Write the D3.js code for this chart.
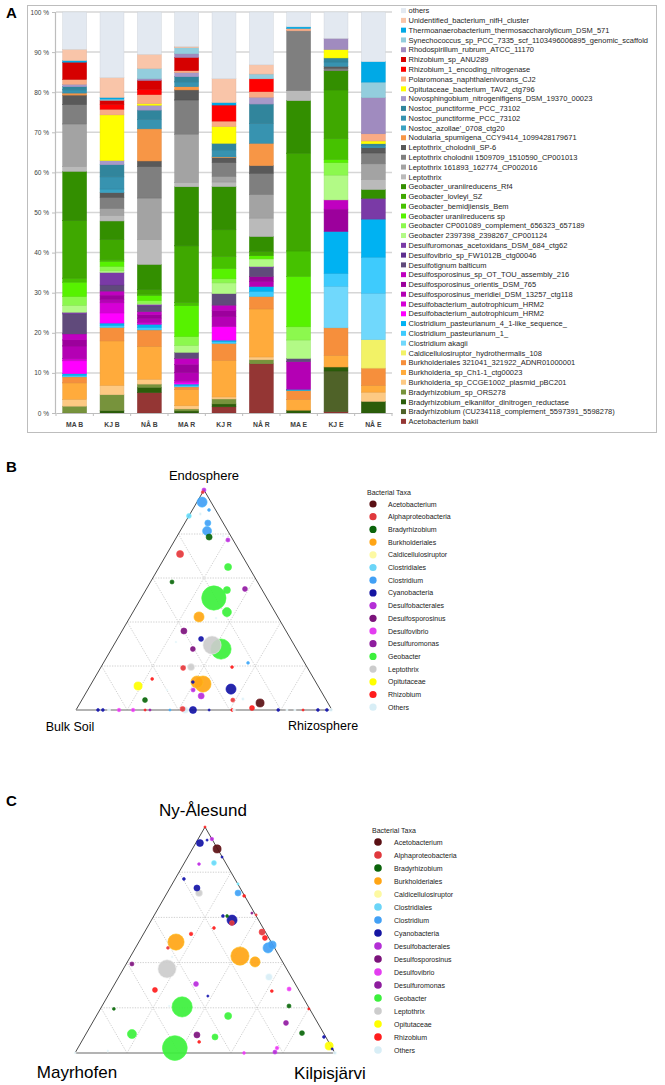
<!DOCTYPE html>
<html><head><meta charset="utf-8">
<script src="https://cdn.jsdelivr.net/npm/d3@7"></script>
<style>body{margin:0;background:#fff;} svg{display:block;font-family:"Liberation Sans",Arial,sans-serif;}</style>
</head><body><svg id="c" width="665" height="1085"></svg>
<script>
// ---------- Panel A data ----------
const samples = ["MA B","KJ B","NÅ B","MA R","KJ R","NÅ R","MA E","KJ E","NÅ E"];
const seriesNames = [
"others","Unidentified_bacterium_nifH_cluster","Thermoanaerobacterium_thermosaccharolyticum_DSM_571",
"Synechococcus_sp_PCC_7335_scf_1103496006895_genomic_scaffold","Rhodospirillum_rubrum_ATCC_11170",
"Rhizobium_sp_ANU289","Rhizobium_1_encoding_nitrogenase","Polaromonas_naphthalenivorans_CJ2",
"Opitutaceae_bacterium_TAV2_ctg796","Novosphingobium_nitrogenifigens_DSM_19370_00023",
"Nostoc_punctiforme_PCC_73102","Nostoc_punctiforme_PCC_73102","Nostoc_azollae'_0708_ctg20",
"Nodularia_spumigena_CCY9414_1099428179671","Leptothrix_cholodnii_SP-6",
"Leptothrix cholodnii 1509709_1510590_CP001013","Leptothrix 161893_162774_CP002016","Leptothrix",
"Geobacter_uraniireducens_Rf4","Geobacter_lovleyi_SZ","Geobacter_bemidjiensis_Bem","Geobacter uraniireducens sp",
"Geobacter CP001089_complement_656323_657189","Geobacter 2397398_2398267_CP001124",
"Desulfuromonas_acetoxidans_DSM_684_ctg62","Desulfovibrio_sp_FW1012B_ctg00046","Desulfotignum balticum",
"Desulfosporosinus_sp_OT_TOU_assembly_216","Desulfosporosinus_orientis_DSM_765",
"Desulfosporosinus_meridiei_DSM_13257_ctg118","Desulfobacterium_autotrophicum_HRM2",
"Desulfobacterium_autotrophicum_HRM2","Clostridium_pasteurianum_4_1-like_sequence_",
"Clostridium_pasteurianum_1_","Clostridium akagii","Caldicellulosiruptor_hydrothermalis_108",
"Burkholderiales 321041_321922_ADNR01000001","Burkholderia_sp_Ch1-1_ctg00023",
"Burkholderia_sp_CCGE1002_plasmid_pBC201","Bradyrhizobium_sp_ORS278",
"Bradyrhizobium_elkaniifor_dinitrogen_reductase","Bradyrhizobium (CU234118_complement_5597391_5598278)",
"Acetobacterium bakii"];
const seriesColors = [
"#e3e9f1","#f9c5a9","#00a9e6","#93cddd","#a08bbf",
"#d60000","#ff0000","#f9ab85","#ffff00","#a799c9",
"#31859c","#3793b0","#3aa2c2","#f79646","#595959",
"#7f7f7f","#a3a3a3","#bababa",
"#338f00","#3fa800","#46c200","#57f200","#8cf84e","#b2fa86",
"#7a3aa6","#5e2e8e","#604a7b",
"#c000c0","#9c009c","#b400b4","#d600d6",
"#ff00ff","#00b2f2","#3ecbfd","#70d8fc","#f2f266",
"#f68f3c","#ffab3c","#fdc983","#77933c",
"#2b5d0a","#4f6228","#943634"];
// values in legend order (top of legend first), % of reads
const valMA_B = [9.3,2.8,0.4,0,0,4.3,0,1.2,0,0.6,0.8,0.8,0,0.5,2.4,4.8,10.6,1.2,12.3,14.3,1.0,3.6,2.2,1.7,0.4,0,5.0,1.5,1.5,3.2,0.5,3.2,0.4,0.4,0,0,1.5,4.1,1.7,1.7,0,0,0];
const valKJ_B = [16.2,4.9,0.4,0.3,0,1.0,1.2,1.4,11.3,1.0,3.0,3.0,0.9,0,1.2,2.7,1.7,1.4,4.6,5.0,0.4,1.2,1.1,0.4,3.1,0,1.5,1.0,1.0,0.9,2.5,2.5,0.6,0.5,0,0,3.3,11.0,2.3,3.9,0.6,0,0];
const valNA_B = [10.4,3.5,0,2.5,0.4,2.2,1.3,2.2,0.4,1.2,2.3,2.3,0,7.9,1.4,7.7,10.2,6.1,6.2,1.1,0.4,1.2,0.7,0.2,0.4,0,1.4,0.8,0.8,1.1,0.4,0,0.8,0.6,0,0,4.0,8.1,1.2,0.8,1.3,0,5.0];
const valMA_R = [8.6,0.3,0,1.5,0.9,3.3,0,0.5,0,1.0,1.3,1.2,0,0.8,2.5,8.5,12.0,1.1,14.7,14.1,0.8,7.7,2.2,1.7,0,0,1.5,1.5,2.0,2.1,0.4,0.4,0.4,0.3,0,0,0.6,4.1,0.8,0.5,0.5,0,0];
const valKJ_R = [16.2,5.8,0.6,0,0,0,3.9,1.3,4.1,0,1.6,1.5,0.2,0.2,1.2,3.3,1.4,1.1,10.5,6.5,2.9,2.5,1.0,2.6,0,0,2.8,1.3,1.4,2.5,0,3.3,0.4,0.4,0,0,4.1,8.9,0.5,1.2,0.7,0,1.5];
const valNA_R = [13.2,2.3,0,1.2,0,0,3.2,1.4,0,1.7,4.9,4.9,0,5.6,1.9,5.3,5.9,4.6,3.7,1.1,0,0.8,0,1.9,0.3,0,2.2,0,1.2,1.3,0,0,1.2,1.3,0,0,3.1,12.0,0.7,1.0,0,0,12.3];
const valMA_E = [3.7,0,0.4,0,0,0,0,0.6,0,0,0,0,0,0,0,14.9,0,2.5,13.1,24.4,6.3,12.6,3.3,4.6,0,0,0.8,0,0,6.9,0,0,0.3,0,0,0,2.2,2.7,0,0,0.7,0,0];
const valKJ_E = [6.6,0,0,0,2.8,0,0,0,2.1,0,1.0,1.1,0,0,0.5,0.6,0,0,4.8,12.2,5.2,0.8,3.1,6.2,0,0,0,2.3,5.6,0,0,0,10.5,3.2,10.4,0,6.9,2.9,0,0,1.0,10.2,0.3];
const valNA_E = [12.4,0,5.1,3.9,9.0,0,0,1.8,0.7,0,0.5,0.5,0,0,1.3,2.7,3.9,2.5,2.2,0,0,0,0,0,5.2,0,0,0,0,0,0,0,9.5,9.0,11.6,7.1,4.3,1.7,2.3,0,2.9,0,0];
const sampleValues = [valMA_B,valKJ_B,valNA_B,valMA_R,valKJ_R,valNA_R,valMA_E,valKJ_E,valNA_E];
const yTicks = [0,0.1,0.2,0.3,0.4,0.5,0.6,0.7,0.8,0.9,1.0];

// ---------- Panels B & C data ----------
const taxa = ["Acetobacterium","Alphaproteobacteria","Bradyrhizobium","Burkholderiales","Caldicellulosiruptor",
"Clostridiales","Clostridium","Cyanobacteria","Desulfobacterales","Desulfosporosinus","Desulfovibrio",
"Desulfuromonas","Geobacter","Leptothrix","Opitutaceae","Rhizobium","Others"];
const taxaColors = ["#5a1014","#e0393d","#0b640b","#ffa515","#fdf9a2","#6bd5f8","#42a0f5","#1515a2",
"#b42fd6","#7b137b","#e33df0","#8e1d9e","#3cf03c","#cccccc","#ffff00","#ff1d1d","#d8eef6"];
// [taxon, top-vertex fraction (Endosphere), right-vertex fraction (Rhizosphere), abundance]
const pointsB = [
["Desulfobacterales",1.0,0.0,4],["Alphaproteobacteria",0.99,0.0,2],["Clostridium",0.945,0.02,25],
["Clostridium",0.909,0.065,2],["Clostridiales",0.882,0.0,6],["Others",0.891,0.04,2],
["Clostridium",0.85,0.09,9],["Clostridium",0.814,0.105,20],["Bradyrhizobium",0.786,0.127,9],
["Others",0.791,0.179,1],["Desulfobacterales",0.773,0.207,4],["Alphaproteobacteria",0.709,0.052,12],
["Geobacter",0.65,0.269,12],["Bradyrhizobium",0.582,0.084,4],["Desulfuromonas",0.55,0.385,6],
["Geobacter",0.545,0.317,12],["Geobacter",0.509,0.284,144],["Geobacter",0.445,0.367,20],
["Burkholderiales",0.423,0.269,25],["Others",0.418,0.338,1],["Desulfosporosinus",0.359,0.242,9],
["Cyanobacteria",0.323,0.327,6],["Others",0.309,0.236,1],["Geobacter",0.277,0.428,100],
["Leptothrix",0.295,0.384,81],["Desulfosporosinus",0.277,0.318,6],["Alphaproteobacteria",0.191,0.323,6],
["Leptothrix",0.195,0.352,12],["Rhizobium",0.195,0.512,2],["Clostridium",0.214,0.565,2],
["Rhizobium",0.141,0.227,2],["Opitutaceae",0.109,0.188,16],["Others",0.091,0.31,1],
["Cyanobacteria",0.127,0.393,2],["Desulfobacterales",0.091,0.412,4],["Burkholderiales",0.118,0.437,64],
["Burkholderiales",0.127,0.409,36],["Desulfobacterales",0.064,0.457,9],["Cyanobacteria",0.095,0.558,25],
["Bradyrhizobium",0.045,0.247,6],["Others",0.05,0.627,2],["Alphaproteobacteria",0.045,0.59,4],
["Acetobacterium",0.032,0.703,16],["Rhizobium",0.009,0.683,6],
["Cyanobacteria",0,0.086,2],["Cyanobacteria",0,0.105,2],["Others",0,0.129,2],["Desulfovibrio",0,0.168,3],
["Desulfovibrio",0,0.223,3],["Rhizobium",0,0.27,1],["Desulfuromonas",0,0.289,1],["Clostridium",0,0.367,1],
["Alphaproteobacteria",0.005,0.414,6],["Others",0,0.426,12],["Cyanobacteria",0,0.457,12],
["Cyanobacteria",0,0.52,1],["Rhizobium",0,0.61,2],["Others",0,0.617,2],["Cyanobacteria",0,0.79,2],
["Others",0,0.824,1],["Others",0,0.855,1],["Rhizobium",0,0.887,1],["Cyanobacteria",0,0.945,2],
["Cyanobacteria",0,0.98,2],["Others",0,0.996,3]];
// [taxon, top fraction (Ny-Ålesund), right fraction (Kilpisjärvi), abundance]
const pointsC = [
["Rhizobium",1.0,0.0,1],["Desulfobacterales",0.947,0.053,3],["Cyanobacteria",0.929,0.016,12],
["Cyanobacteria",0.942,0.037,1],["Acetobacterium",0.903,0.095,16],["Cyanobacteria",0.867,0.132,1],
["Desulfobacterales",0.836,0.059,2],["Clostridiales",0.841,0.114,6],["Cyanobacteria",0.77,0.034,2],
["Cyanobacteria",0.73,0.104,9],["Leptothrix",0.708,0.123,12],["Clostridium",0.708,0.273,9],
["Clostridiales",0.748,0.253,1],["Rhizobium",0.695,0.303,2],["Others",0.624,0.307,1],
["Desulfosporosinus",0.619,0.371,1],["Alphaproteobacteria",0.611,0.391,1],["Cyanobacteria",0.606,0.266,2],
["Bradyrhizobium",0.606,0.282,2],["Cyanobacteria",0.588,0.31,25],["Alphaproteobacteria",0.575,0.316,6],
["Rhizobium",0.553,0.258,2],["Alphaproteobacteria",0.535,0.452,9],["Rhizobium",0.509,0.476,6],
["Rhizobium",0.527,0.183,3],["Burkholderiales",0.491,0.143,64],["Alphaproteobacteria",0.465,0.125,2],
["Clostridium",0.465,0.51,25],["Clostridium",0.478,0.519,16],["Burkholderiales",0.429,0.42,81],
["Burkholderiales",0.403,0.491,25],["Others",0.425,0.161,1],["Desulfosporosinus",0.394,0.022,4],
["Leptothrix",0.372,0.168,81],["Others",0.336,0.578,12],["Desulfobacterales",0.305,0.313,6],
["Rhizobium",0.279,0.168,6],["Rhizobium",0.274,0.62,2],["Desulfovibrio",0.283,0.682,4],
["Cyanobacteria",0.252,0.385,1],["Geobacter",0.204,0.31,100],["Others",0.208,0.258,1],
["Bradyrhizobium",0.195,0.052,2],["Rhizobium",0.195,0.802,1],["Bradyrhizobium",0.208,0.719,4],
["Geobacter",0.164,0.507,12],["Desulfuromonas",0.133,0.745,6],["Geobacter",0.084,0.177,20],
["Bradyrhizobium",0.088,0.829,6],["Desulfosporosinus",0.08,0.429,9],["Geobacter",0.071,0.503,9],
["Rhizobium",0.049,0.453,2],["Cyanobacteria",0.071,0.922,2],["Geobacter",0.022,0.373,150],
["Opitutaceae",0.031,0.962,16],["Cyanobacteria",0.018,0.98,1],["Desulfovibrio",0.022,0.766,3],
["Desulfobacterales",0.004,0.767,4],["Desulfovibrio",0,0.65,2],["Others",0,1.0,3],
["Others",0.009,0.122,1],["Others",0,0,1]];
const gridSteps = [0.2,0.4,0.6,0.8];

// ---------- drawing ----------
const svg = d3.select("#c");

// Panel A
svg.append("rect").attr("x",27.5).attr("y",5.5).attr("width",629).attr("height",427)
  .attr("fill","none").attr("stroke","#bdbdbd").attr("stroke-width",1);
svg.append("text").attr("x",6).attr("y",18).attr("font-size",15).attr("font-weight","bold").text("A");

const y = d3.scaleLinear().domain([0,1]).range([413,12]);
const x = d3.scaleBand().domain(samples).range([56,392]).paddingInner(0.36).paddingOuter(0.18);
const gA = svg.append("g");
gA.selectAll("line.grid").data(yTicks.slice(1)).join("line")
  .attr("x1",56).attr("x2",392).attr("y1",d=>y(d)).attr("y2",d=>y(d))
  .attr("stroke","#d6d6d6").attr("stroke-width",1.5);
const yAx = gA.append("g").attr("transform","translate(55,0)")
  .call(d3.axisLeft(y).tickValues(yTicks).tickSize(3).tickFormat(d=>Math.round(d*100)+" %"));
yAx.select(".domain").attr("stroke","#bdbdbd").attr("stroke-width",1.2);
yAx.selectAll(".tick line").attr("stroke","#bdbdbd");
yAx.selectAll(".tick text").attr("font-size",6.5).attr("fill","#404040").attr("font-family","Liberation Sans, Arial");

const rows = samples.map((s,i)=>{const o={sample:s}; sampleValues[i].forEach((v,k)=>o[k]=v); return o;});
const keys = d3.range(seriesNames.length).reverse(); // bottom first
const stacked = d3.stack().keys(keys).offset(d3.stackOffsetExpand)(rows);
gA.selectAll("g.layer").data(stacked).join("g")
  .attr("fill",d=>seriesColors[d.key])
  .attr("stroke",d=>d3.color(seriesColors[d.key]).darker(0.25))
  .attr("stroke-width",0.5)
  .selectAll("rect").data(d=>d.filter(p=>p[1]-p[0]>0)).join("rect")
  .attr("x",d=>x(d.data.sample)).attr("width",x.bandwidth())
  .attr("y",d=>y(d[1])).attr("height",d=>Math.max(0,y(d[0])-y(d[1])));
const xAx = gA.append("g").attr("transform","translate(0,413)")
  .call(d3.axisBottom(x).tickSize(0).tickPadding(9));
xAx.select(".domain").attr("stroke","#bdbdbd").attr("stroke-width",1.2);
xAx.selectAll(".tick text").attr("font-size",6.8).attr("font-weight","bold").attr("fill","#404040")
  .attr("font-family","Liberation Sans, Arial");
const bounds = samples.map(s=>x(s)-x.step()*x.paddingInner()/2).concat([392]);
gA.selectAll("line.xt").data(bounds).join("line")
  .attr("x1",d=>d).attr("x2",d=>d).attr("y1",413).attr("y2",416).attr("stroke","#bdbdbd");

const lgA = gA.append("g");
seriesNames.forEach((n,i)=>{
  const yy = 10.7 + i*9.78;
  lgA.append("rect").attr("x",401).attr("y",yy-2.6).attr("width",5).attr("height",5).attr("fill",seriesColors[i]);
  lgA.append("text").attr("x",408.5).attr("y",yy+2.6).attr("font-size",7.5).attr("fill","#262626").text(n);
});

// Ternary helper
const colorOf = d3.scaleOrdinal().domain(taxa).range(taxaColors);
const rScale = d3.scaleSqrt().domain([0,150]).range([0,12.4]);
function ternary(g, apexY, baseY, leftX, rightX, pts){
  const xs = d3.scaleLinear().domain([0,1]).range([leftX,rightX]);
  const ys = d3.scaleLinear().domain([0,1]).range([baseY,apexY]);
  const P = (t,r)=>[xs(r+t/2), ys(t)];
  const grid = [];
  gridSteps.forEach(k=>{
    grid.push([P(k,0),P(k,1-k)]);
    grid.push([P(0,k),P(1-k,k)]);
    grid.push([P(0,1-k),P(1-k,0)]);
  });
  g.selectAll("line.g").data(grid).join("line")
    .attr("x1",d=>d[0][0]).attr("y1",d=>d[0][1]).attr("x2",d=>d[1][0]).attr("y2",d=>d[1][1])
    .attr("stroke","#c4c4c4").attr("stroke-width",0.8).attr("stroke-dasharray","1.3,1.3");
  const A=P(1,0), L=P(0,0), R=P(0,1);
  g.append("path").attr("d",`M${L[0]},${L[1]}L${A[0]},${A[1]}L${R[0]},${R[1]}`)
    .attr("fill","none").attr("stroke","#4a4a4a").attr("stroke-width",1);
  g.append("line").attr("x1",L[0]).attr("y1",L[1]).attr("x2",R[0]).attr("y2",R[1])
    .attr("stroke","#9a9a9a").attr("stroke-width",1.6);
  const sorted = pts.slice().sort((a,b)=>b[3]-a[3]);
  g.selectAll("circle.p").data(sorted).join("circle")
    .attr("cx",d=>P(d[1],d[2])[0]).attr("cy",d=>P(d[1],d[2])[1])
    .attr("r",d=>Math.max(1.1,rScale(d[3])))
    .attr("fill",d=>colorOf(d[0])).attr("fill-opacity",0.92)
    .attr("stroke",d=>d3.color(colorOf(d[0])).brighter(0.4)).attr("stroke-width",0.6);
}
function legend(g, x0, y0, step, cr, textDx, fs){
  g.append("text").attr("x",x0-6).attr("y",y0-9).attr("font-size",fs).attr("fill","#222").text("Bacterial Taxa");
  taxa.forEach((t,i)=>{
    const yy = y0 + i*step;
    g.append("circle").attr("cx",x0).attr("cy",yy).attr("r",cr).attr("fill",taxaColors[i]);
    g.append("text").attr("x",x0+textDx).attr("y",yy+2.5).attr("font-size",fs).attr("fill","#222").text(t);
  });
}

// Panel B
const gB = svg.append("g");
gB.append("text").attr("x",6).attr("y",472).attr("font-size",15).attr("font-weight","bold").text("B");
gB.append("text").attr("x",204).attr("y",480).attr("text-anchor","middle").attr("font-size",13).text("Endosphere");
gB.append("text").attr("x",70).attr("y",731).attr("text-anchor","middle").attr("font-size",12.5).text("Bulk Soil");
gB.append("text").attr("x",323).attr("y",730).attr("text-anchor","middle").attr("font-size",12.5).text("Rhizosphere");
ternary(gB, 490, 710, 76, 332, pointsB);
legend(gB, 373, 504, 12.7, 3.6, 15, 7);

// Panel C
const gC = svg.append("g");
gC.append("text").attr("x",6).attr("y",806).attr("font-size",15).attr("font-weight","bold").text("C");
gC.append("text").attr("x",203).attr("y",816).attr("text-anchor","middle").attr("font-size",17).text("Ny-Ålesund");
gC.append("text").attr("x",77).attr("y",1078).attr("text-anchor","middle").attr("font-size",17).text("Mayrhofen");
gC.append("text").attr("x",330).attr("y",1079).attr("text-anchor","middle").attr("font-size",17).text("Kilpisjärvi");
ternary(gC, 827, 1053, 75, 335, pointsC);
legend(gC, 378, 842, 13, 3.8, 16, 7);
</script></body></html>
